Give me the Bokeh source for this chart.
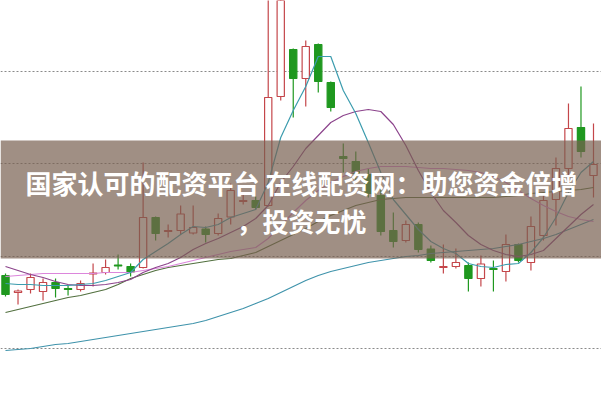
from bokeh.plotting import figure
from bokeh.models import Range1d, Grid, FixedTicker, BoxAnnotation, Label, ColumnDataSource
from bokeh.embed import file_html
from bokeh.resources import INLINE

# Daily candles (price units)
opens  = [7.25, 7.08, 7.11, 7.09, 7.18, 7.12, 7.11, 7.265, 7.28, 7.355, 7.34, 7.33, 7.83, 7.69, 7.70, 7.675,
          7.715, 7.67, 7.835, 7.99, 8.00, 7.95, 9.04, 9.51, 9.22, 9.56, 9.18, 8.44, 8.39, 8.26, 8.05, 7.70,
          7.60, 7.76, 7.515, 7.33, 7.34, 7.35, 7.22, 7.32, 7.29, 7.56, 7.38, 7.65, 8.01, 8.32, 8.73, 8.25]
closes = [7.06, 7.095, 7.23, 7.18, 7.12, 7.11, 7.17, 7.275, 7.33, 7.345, 7.285, 7.83, 7.67, 7.70, 7.865, 7.73,
          7.66, 7.82, 8.10, 8.00, 7.93, 9.03, 10.05, 9.22, 9.54, 9.19, 8.93, 8.42, 8.27, 8.07, 7.69, 7.59,
          7.76, 7.51, 7.40, 7.34, 7.38, 7.22, 7.365, 7.31, 7.56, 7.40, 7.74, 8.00, 8.32, 8.72, 8.49, 8.36]
highs  = [7.27, 7.11, 7.27, 7.22, 7.22, 7.15, 7.20, 7.37, 7.41, 7.46, 7.37, 8.38, 7.84, 7.76, 7.95, 7.95,
          7.74, 7.87, 8.17, 8.08, 8.04, 10.15, 10.20, 9.52, 9.60, 9.57, 9.19, 8.57, 8.49, 8.32, 8.12, 7.88,
          7.80, 7.78, 7.55, 7.56, 7.52, 7.38, 7.45, 7.40, 7.66, 7.57, 7.84, 8.07, 8.43, 8.97, 9.14, 8.77]
lows   = [7.04, 6.96, 7.07, 7.00, 7.03, 7.05, 7.09, 7.14, 7.26, 7.31, 7.24, 7.32, 7.60, 7.63, 7.66, 7.66,
          7.58, 7.65, 7.76, 7.96, 7.91, 7.94, 9.00, 8.83, 8.94, 9.08, 8.89, 8.28, 8.20, 8.03, 7.65, 7.53,
          7.58, 7.48, 7.38, 7.27, 7.32, 7.09, 7.14, 7.09, 7.19, 7.38, 7.30, 7.60, 7.75, 8.25, 8.43, 8.03]

# Moving averages
ma5  = [7.17, 7.16, 7.16, 7.15, 7.15, 7.15, 7.16, 7.17, 7.20, 7.24, 7.28, 7.41, 7.49, 7.57, 7.66, 7.74,
        7.73, 7.76, 7.83, 7.87, 7.91, 8.18, 8.63, 8.90, 9.14, 9.44, 9.44, 9.10, 8.87, 8.58, 8.28, 8.01,
        7.86, 7.71, 7.59, 7.52, 7.47, 7.37, 7.34, 7.33, 7.36, 7.37, 7.48, 7.63, 7.83, 8.08, 8.28, 8.39]
ma10 = [7.34, 7.30, 7.26, 7.23, 7.19, 7.16, 7.15, 7.15, 7.16, 7.18, 7.21, 7.28, 7.33, 7.37, 7.43, 7.51,
        7.57, 7.62, 7.68, 7.74, 7.82, 7.95, 8.18, 8.34, 8.52, 8.65, 8.78, 8.85, 8.89, 8.91, 8.89, 8.76,
        8.55, 8.30, 8.08, 7.90, 7.78, 7.65, 7.56, 7.50, 7.46, 7.44, 7.46, 7.50, 7.62, 7.74, 7.86, 7.96]
ma20 = [7.24, 7.25, 7.26, 7.27, 7.27, 7.27, 7.27, 7.27, 7.28, 7.28, 7.28, 7.30, 7.32, 7.34, 7.37, 7.40,
        7.43, 7.46, 7.49, 7.51, 7.53, 7.62, 7.75, 7.88, 8.00, 8.10, 8.18, 8.24, 8.29, 8.32, 8.34, 8.34,
        8.34, 8.33, 8.32, 8.32, 8.31, 8.30, 8.28, 8.24, 8.18, 8.10, 8.02, 7.95, 7.89, 7.84, 7.81, 7.79]
ma30 = [6.88, 6.91, 6.94, 6.97, 7.00, 7.03, 7.05, 7.08, 7.11, 7.16, 7.22, 7.26, 7.30, 7.33, 7.35, 7.37,
        7.39, 7.41, 7.42, 7.45, 7.48, 7.54, 7.60, 7.66, 7.72, 7.79, 7.85, 7.90, 7.95, 7.98, 8.01, 8.02,
        8.03, 8.03, 8.03, 8.03, 8.03, 8.03, 8.03, 8.03, 8.04, 8.05, 8.07, 8.08, 8.09, 8.10, 8.11, 8.13]
ma60 = [6.50, 6.51, 6.52, 6.54, 6.56, 6.57, 6.59, 6.61, 6.63, 6.65, 6.67, 6.69, 6.71, 6.73, 6.75, 6.77,
        6.80, 6.84, 6.88, 6.92, 6.97, 7.02, 7.08, 7.14, 7.20, 7.25, 7.29, 7.32, 7.35, 7.38, 7.40, 7.42,
        7.44, 7.45, 7.47, 7.48, 7.49, 7.50, 7.51, 7.52, 7.54, 7.56, 7.59, 7.62, 7.66, 7.71, 7.76, 7.81]

grid_levels = [6.52, 7.44, 8.37, 9.29]
banner_text_1 = "国家认可的配资平台 在线配资网：助您资金倍增"
banner_text_2 = "，投资无忧"

RED = "#c4464a"
GREEN = "#1f981f"

n = len(opens)
idx = list(range(n))
up = [c >= o for o, c in zip(opens, closes)]

def sub(flags):
    ii = [i for i in idx if flags[i]]
    return dict(x=ii,
                top=[max(opens[i], closes[i]) for i in ii],
                bottom=[min(opens[i], closes[i]) for i in ii],
                high=[highs[i] for i in ii],
                low=[lows[i] for i in ii])

up_src = ColumnDataSource(sub(up))
dn_src = ColumnDataSource(sub([not u for u in up]))

p = figure(width=601, height=400, output_backend="svg", toolbar_location=None,
           x_axis_type=None, y_axis_type=None, min_border=0,
           x_range=Range1d(-0.40, 47.64), y_range=Range1d(6.00, 10.00))
p.outline_line_color = None
p.background_fill_color = "white"

p.add_layout(Grid(dimension=1, ticker=FixedTicker(ticks=grid_levels),
                  grid_line_color="#8a8a8a", grid_line_dash="2 2", grid_line_width=1))

# wicks
p.segment(x0="x", y0="high", x1="x", y1="low", source=up_src, line_color=RED, line_width=1.2)
p.segment(x0="x", y0="high", x1="x", y1="low", source=dn_src, line_color=GREEN, line_width=1.2)
# bodies
p.vbar(x="x", top="top", bottom="bottom", width=0.58, source=up_src,
       fill_color="white", line_color=RED, line_width=1.2)
p.vbar(x="x", top="top", bottom="bottom", width=0.58, source=dn_src,
       fill_color=GREEN, line_color=GREEN, line_width=1.2)

# moving averages
p.line(idx, ma60, line_color="#3f93ab", line_width=1.2)
p.line(idx, ma30, line_color="#52703f", line_width=1.2)
p.line(idx, ma20, line_color="#dc86dc", line_width=1.2)
p.line(idx, ma10, line_color="#8c448c", line_width=1.2)
p.line(idx, ma5, line_color="#3c9cae", line_width=1.2)

# overlay banner
p.add_layout(BoxAnnotation(top=8.60, bottom=7.42, fill_color=(120, 95, 80), fill_alpha=0.7,
                           line_color=None))
p.add_layout(Label(x=23.66, y=8.18, text=banner_text_1, text_align="center", text_baseline="middle",
                   text_font="Noto Sans CJK SC", text_font_style="bold", text_font_size="26px",
                   text_color="white"))
p.add_layout(Label(x=23.66, y=7.80, text=banner_text_2, text_align="center", text_baseline="middle",
                   text_font="Noto Sans CJK SC", text_font_style="bold", text_font_size="26px",
                   text_color="white"))

open("out.html", "w").write(file_html(p, INLINE))
